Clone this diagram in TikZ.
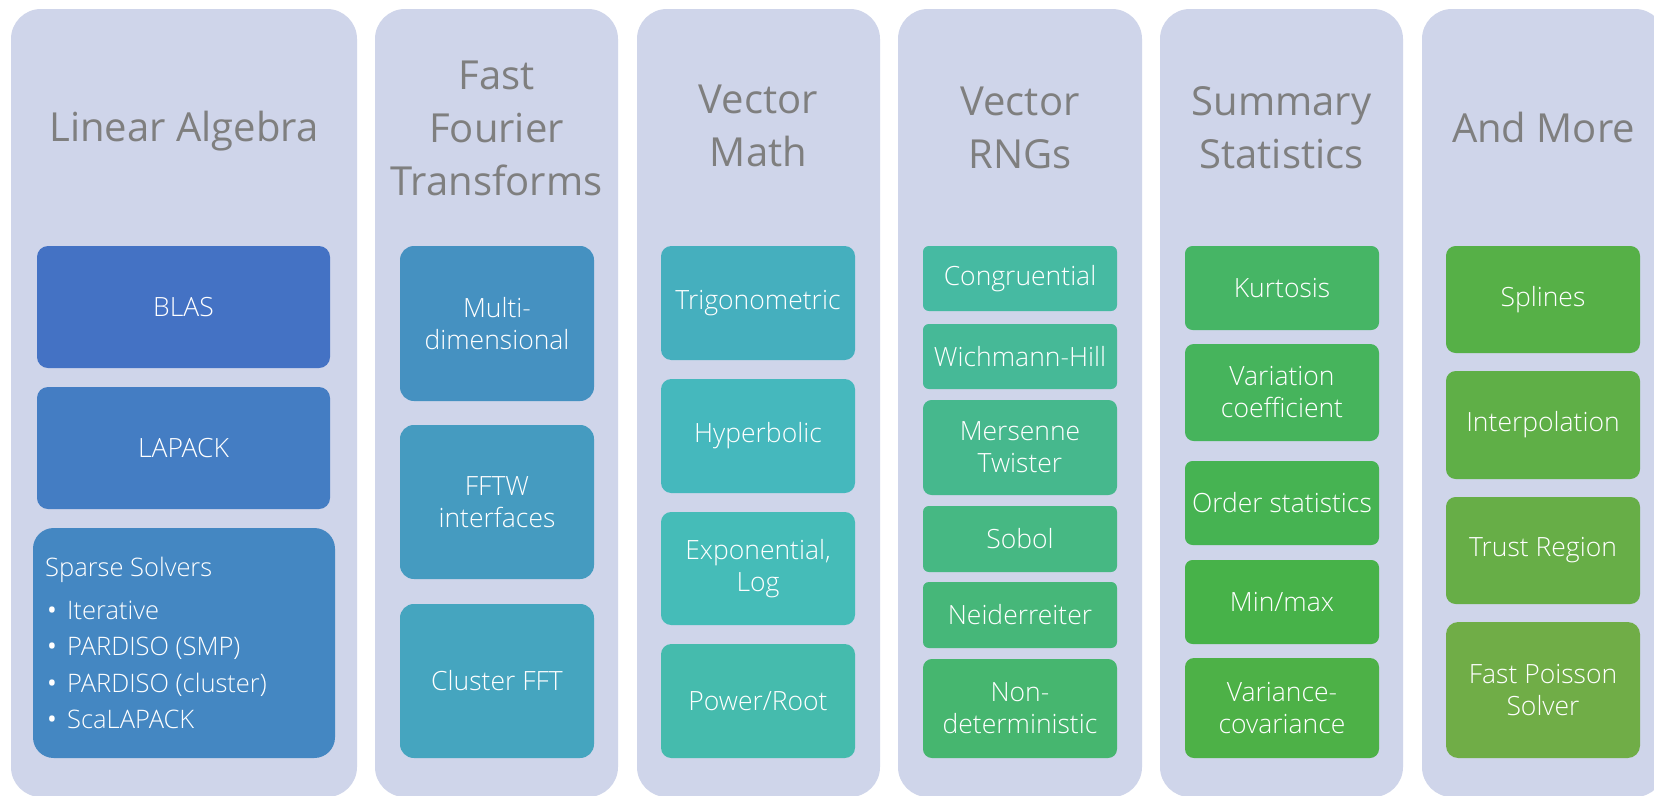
\documentclass[tikz,border=0pt]{standalone}
\usepackage{fontspec}
\setmainfont{Open Sans}
\IfFontExistsTF{Open Sans Light}{\newfontfamily\lightf{Open Sans Light}}{\newfontfamily\lightf{Open Sans}}
\definecolor{panelc}{RGB}{207,213,234}
\definecolor{titlec}{RGB}{127,127,127}
\tikzset{
  panel/.style={fill=panelc, rounded corners=30pt, inner sep=0pt, draw=none},
  ttl/.style={text=titlec, align=center, inner sep=0pt, font=\fontsize{40}{53}\selectfont},
  box/.style={inner sep=0pt, draw=none, text=white, align=center, font=\lightf\fontsize{26.5}{32}\selectfont},
  itm/.style={inner sep=0pt, text=white, anchor=base west, font=\lightf\fontsize{25.5}{32}\selectfont}
}
\newcommand\bul{\makebox[20pt][l]{\normalfont\fontsize{26}{26}\selectfont •}}
\newcommand\bx[7]{%
  \pgfmathsetmacro\bw{#4-#2}\pgfmathsetmacro\bh{#5-#3}%
  \pgfmathsetmacro\br{0.09*min(\bw,\bh)}%
  \pgfmathsetmacro\hh{218.4-#6*122.5/24}%
  \pgfmathsetmacro\ss{0.653-#6*0.063/24}%
  \pgfmathsetmacro\bb{0.769-#6*0.091/24}%
  \definecolor{tmph}{Hsb}{\hh,\ss,\bb}%
  \colorlet{tmpc}[rgb]{tmph}%
  \node[box, fill=tmpc, minimum width=\bw pt, minimum height=\bh pt, rounded corners=\br pt] (#1) at ({(#2+#4)/2},{(#3+#5)/2}) {#7};}
\begin{document}
\begin{tikzpicture}[x=1pt,y=-1pt]
\fill[white] (0,0) rectangle (1654,795);
\useasboundingbox (0,0) rectangle (1654,795);
% panels
\node[panel, minimum width=346pt, minimum height=788pt] (p1) at (184,403) {};
\node[panel, minimum width=243pt, minimum height=788pt] (p2) at (496.5,403) {};
\node[panel, minimum width=243pt, minimum height=788pt] (p3) at (758.5,403) {};
\node[panel, minimum width=244pt, minimum height=788pt] (p4) at (1020,403) {};
\node[panel, minimum width=243pt, minimum height=788pt] (p5) at (1281.5,403) {};
\node[panel, minimum width=243pt, minimum height=788pt] (p6) at (1543.5,403) {};
% titles
\node[ttl] (t1) at (184,131) {Linear Algebra};
\node[ttl] (t2) at (496.5,128) {Fast\\Fourier\\Transforms};
\node[ttl] (t3) at (758.5,126) {Vector\\Math};
\node[ttl] (t4) at (1020,128) {Vector\\RNGs};
\node[ttl] (t5) at (1281.5,128) {Summary\\Statistics};
\node[ttl] (t6) at (1543.5,127) {And More};
% column 1
\bx{blas}{37}{246}{330}{368}{0}{BLAS}
\bx{lapack}{37}{387}{330}{509}{1}{LAPACK}
\bx{sparse}{33}{528}{335}{758}{2}{}
\node[itm] (sph) at (45,576) {Sparse Solvers};
\node[itm] (sp1) at (47,619) {\bul Iterative};
\node[itm] (sp2) at (47,655) {\bul PARDISO (SMP)};
\node[itm] (sp3) at (47,692) {\bul PARDISO (cluster)};
\node[itm] (sp4) at (47,728) {\bul ScaLAPACK};
% column 2
\bx{multi}{400}{246}{594}{401}{3}{Multi-\\dimensional}
\bx{fftw}{400}{425}{594}{579}{4}{FFTW\\interfaces}
\bx{cfft}{400}{604}{594}{758}{5}{Cluster FFT}
% column 3
\bx{trig}{661}{246}{855}{360}{6}{Trigonometric}
\bx{hyper}{661}{379}{855}{493}{7}{Hyperbolic}
\bx{expo}{661}{512}{855}{625}{8}{Exponential,\\Log}
\bx{power}{661}{644}{855}{758}{9}{Power/Root}
% column 4
\bx{congr}{923}{246}{1117}{311}{10}{Congruential}
\bx{wich}{923}{324}{1117}{389}{11}{Wichmann-Hill}
\bx{mers}{923}{400}{1117}{495}{12}{Mersenne\\Twister}
\bx{sobol}{923}{506}{1117}{572}{13}{Sobol}
\bx{neid}{923}{582}{1117}{648}{14}{Neiderreiter}
\bx{nondet}{923}{659}{1117}{758}{15}{Non-\\deterministic}
% column 5
\bx{kurt}{1185}{246}{1379}{330}{16}{Kurtosis}
\bx{varc}{1185}{344}{1379}{441}{17}{Variation\\coefficient}
\bx{order}{1185}{461}{1379}{545}{18}{Order statistics}
\bx{minmax}{1185}{560}{1379}{644}{19}{Min/max}
\bx{varcov}{1185}{658}{1379}{758}{20}{Variance-\\covariance}
% column 6
\bx{splines}{1446}{246}{1640}{353}{21}{Splines}
\bx{interp}{1446}{371}{1640}{479}{22}{Interpolation}
\bx{trust}{1446}{497}{1640}{604}{23}{Trust Region}
\bx{poisson}{1446}{622}{1640}{758}{24}{Fast Poisson\\Solver}
\end{tikzpicture}
\end{document}
